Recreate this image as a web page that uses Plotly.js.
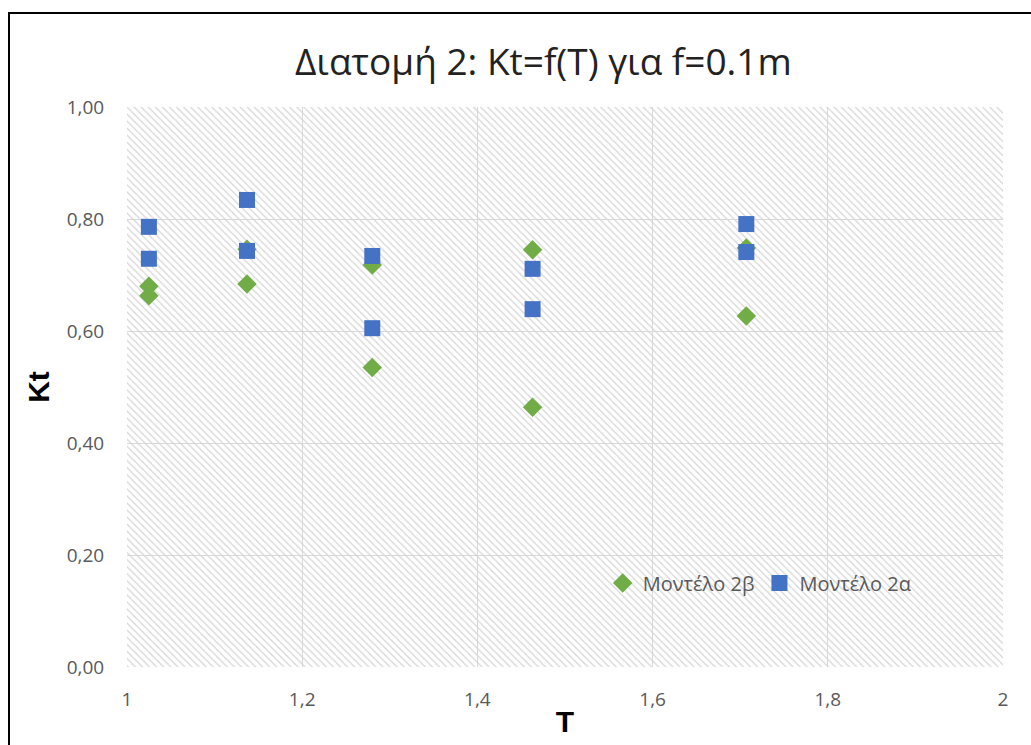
<!DOCTYPE html>
<html>
<head>
<meta charset="utf-8">
<script src="https://cdn.plot.ly/plotly-3.0.1.min.js"></script>
<style>
  html, body { margin: 0; padding: 0; background: #fff; }
  #wrap { position: relative; width: 1031px; height: 745px; }
  #chart { width: 1031px; height: 745px; }
  #frame { position: absolute; left: 8px; top: 12px; width: 1040px; height: 760px;
           border-left: 2px solid #000; border-top: 2px solid #000; pointer-events: none; }
</style>
</head>
<body>
<div id="wrap">
  <div id="chart"></div>
  <div id="frame"></div>
</div>
<script>
// Data
const T_2b  = [1.025, 1.025, 1.137, 1.137, 1.280, 1.280, 1.463, 1.463, 1.707, 1.707];
const Kt_2b = [0.680, 0.663, 0.684, 0.746, 0.718, 0.535, 0.745, 0.464, 0.748, 0.627];
const T_2a  = [1.025, 1.025, 1.137, 1.137, 1.280, 1.280, 1.463, 1.463, 1.707, 1.707];
const Kt_2a = [0.786, 0.729, 0.834, 0.743, 0.734, 0.605, 0.711, 0.639, 0.791, 0.741];
const seriesNames = ['Μοντέλο 2β', 'Μοντέλο 2α'];
const xRange = [1, 2];
const yRange = [0, 1];
const xTicks = [1, 1.2, 1.4, 1.6, 1.8, 2];
const yTicks = [0, 0.2, 0.4, 0.6, 0.8, 1.0];

const gray = '#595959';

const hatch = {
  x: [xRange[0], xRange[1], xRange[1], xRange[0], xRange[0]],
  y: [yRange[0], yRange[0], yRange[1], yRange[1], yRange[0]],
  mode: 'lines', fill: 'toself', line: {width: 0},
  fillcolor: 'rgba(255,255,255,0)',
  fillpattern: {shape: '\\', fgcolor: '#d6d6d6', bgcolor: 'rgba(255,255,255,0)', size: 5, solidity: 0.25},
  hoverinfo: 'skip', showlegend: false
};

const tr2b = {
  x: T_2b, y: Kt_2b, name: seriesNames[0], mode: 'markers', type: 'scatter',
  marker: {symbol: 'diamond', size: 15, color: '#70AD47'}
};
const tr2a = {
  x: T_2a, y: Kt_2a, name: seriesNames[1], mode: 'markers', type: 'scatter',
  marker: {symbol: 'square', size: 16, color: '#4472C4'}
};

const layout = {
  width: 1031, height: 745,
  margin: {l: 127, r: 28, t: 107, b: 78},
  paper_bgcolor: '#ffffff', plot_bgcolor: '#ffffff',
  separators: ',.',
  font: {family: 'Open Sans, sans-serif', color: gray, size: 19},
  title: {text: 'Διατομή 2: Kt=f(T) για f=0.1m', x: 0.527, xanchor: 'center', y: 0.917, yanchor: 'middle',
          font: {family: 'Open Sans, sans-serif', size: 37, color: '#222'}},
  xaxis: {range: xRange, tickvals: xTicks, ticktext: xTicks.map(v => String(v).replace('.', ',')),
          showgrid: true, gridcolor: '#d9d9d9', gridwidth: 1, zeroline: false,
          showline: false, ticks: 'outside', ticklen: 15, tickcolor: 'rgba(0,0,0,0)',
          tickfont: {size: 19, color: gray},
          title: {text: '<b>T</b>', font: {family: 'Liberation Sans, Arial, sans-serif', size: 30, color: '#000'}, standoff: 0}},
  yaxis: {range: yRange, tickvals: yTicks, tickformat: '.2f',
          showgrid: true, gridcolor: '#d9d9d9', gridwidth: 1, zeroline: false,
          showline: false, ticks: 'outside', ticklen: 18, tickcolor: 'rgba(0,0,0,0)',
          tickfont: {size: 19, color: gray},
          title: {text: '<b>Kt</b>', font: {family: 'Liberation Sans, Arial, sans-serif', size: 30, color: '#000'}, standoff: 8}},
  legend: {orientation: 'h', x: 0.543, y: 0.15, xanchor: 'left', yanchor: 'middle',
           bgcolor: 'rgba(0,0,0,0)', font: {size: 20, color: gray}, itemwidth: 30, tracegroupgap: 0},
  showlegend: true
};

Plotly.newPlot('chart', [hatch, tr2b, tr2a], layout, {displayModeBar: false, staticPlot: true});
</script>
</body>
</html>
